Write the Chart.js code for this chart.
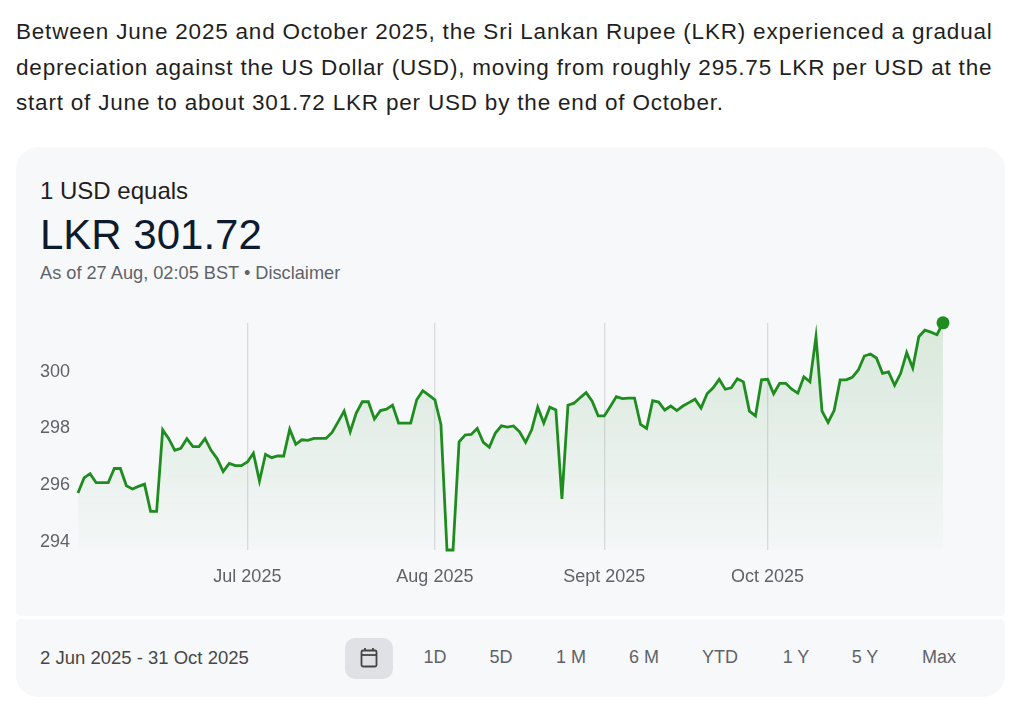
<!DOCTYPE html>
<html>
<head>
<meta charset="utf-8">
<script src="https://cdn.jsdelivr.net/npm/chart.js@4.4.1/dist/chart.umd.min.js"></script>
<style>
  body { margin: 0; background: #fff; font-family: "Liberation Sans", Arial, sans-serif; }
  .abs { position: absolute; white-space: nowrap; }
  #intro { left: 16px; top: 14px; font-size: 22.5px; letter-spacing: 0.8px; line-height: 35.5px; color: #1f1f1f; }
  #card { left: 16px; top: 147px; width: 989px; height: 469px; background: #f7f8fa;
          border-radius: 22px 22px 5px 5px; }
  #bar { left: 16px; top: 619px; width: 989px; height: 78px; background: #f7f8fa;
         border-radius: 5px 5px 22px 22px; }
  #equals { left: 40px; top: 177px; font-size: 24px; color: #1f1f1f; }
  #rate { left: 40px; top: 211px; font-size: 42px; color: #0d1b2e; }
  #asof { left: 40px; top: 263px; font-size: 18.2px; color: #5f6368; }
  #range { left: 40px; top: 647px; font-size: 18.5px; color: #474747; }
  .btn { top: 647px; font-size: 18px; color: #5f6368; transform: translateX(-50%); }
  #cal { left: 345px; top: 638px; width: 48px; height: 41px; background: #dfe1e5; border-radius: 10px; }
  #chartBox { left: 40px; top: 304px; }
  #chartBox canvas { display: block; }
</style>
</head>
<body>
<div class="abs" id="intro">Between June 2025 and October 2025, the Sri Lankan Rupee (LKR) experienced a gradual<br>depreciation against the US Dollar (USD), moving from roughly 295.75 LKR per USD at the<br>start of June to about 301.72 LKR per USD by the end of October.</div>

<div class="abs" id="card"></div>
<div class="abs" id="bar"></div>

<div class="abs" id="equals">1 USD equals</div>
<div class="abs" id="rate">LKR 301.72</div>
<div class="abs" id="asof">As of 27 Aug, 02:05 BST • Disclaimer</div>

<div class="abs" id="chartBox"><canvas id="fxChart" width="913" height="296"></canvas></div>

<div class="abs" id="range">2 Jun 2025 - 31 Oct 2025</div>
<div class="abs" id="cal">
  <svg width="48" height="41" viewBox="0 0 48 41">
    <rect x="16.5" y="12.5" width="15" height="16" rx="1.5" fill="none" stroke="#444" stroke-width="1.8"/>
    <line x1="16.5" y1="17" x2="31.5" y2="17" stroke="#444" stroke-width="1.8"/>
    <line x1="20" y1="10" x2="20" y2="13" stroke="#444" stroke-width="1.8"/>
    <line x1="28" y1="10" x2="28" y2="13" stroke="#444" stroke-width="1.8"/>
  </svg>
</div>
<div class="abs btn" style="left:435px">1D</div>
<div class="abs btn" style="left:501px">5D</div>
<div class="abs btn" style="left:571px">1 M</div>
<div class="abs btn" style="left:644px">6 M</div>
<div class="abs btn" style="left:720px">YTD</div>
<div class="abs btn" style="left:796px">1 Y</div>
<div class="abs btn" style="left:865px">5 Y</div>
<div class="abs btn" style="left:939px">Max</div>

<script>
// USD -> LKR rate, one value per data point (2 Jun 2025 - 31 Oct 2025)
const rates = [
  295.73, 296.26, 296.41, 296.09, 296.09, 296.09, 296.59, 296.59, 295.98, 295.87,
  295.96, 296.04, 295.08, 295.08, 297.95, 297.64, 297.23, 297.30, 297.64, 297.36,
  297.36, 297.64, 297.23, 296.94, 296.48, 296.77, 296.69, 296.69, 296.82, 297.13,
  296.15, 297.09, 296.97, 297.03, 297.03, 297.97, 297.44, 297.60, 297.58, 297.65,
  297.65, 297.65, 297.86, 298.23, 298.61, 297.88, 298.54, 298.94, 298.94, 298.33,
  298.63, 298.68, 298.82, 298.19, 298.19, 298.19, 299.01, 299.33, 299.17, 299.01,
  298.14, 293.72, 293.72, 297.53, 297.77, 297.79, 298.00, 297.51, 297.34, 297.84,
  298.09, 298.05, 298.09, 297.88, 297.51, 297.95, 298.75, 298.19, 298.75, 298.65,
  295.52, 298.82, 298.89, 299.08, 299.26, 298.96, 298.44, 298.44, 298.77, 299.12,
  299.05, 299.07, 299.07, 298.14, 298.00, 298.98, 298.93, 298.65, 298.79, 298.63,
  298.79, 298.91, 299.03, 298.72, 299.22, 299.43, 299.73, 299.38, 299.43, 299.75,
  299.64, 298.61, 298.44, 299.71, 299.73, 299.22, 299.59, 299.59, 299.38, 299.24,
  299.82, 299.64, 301.23, 298.61, 298.21, 298.63, 299.71, 299.71, 299.80, 300.06,
  300.55, 300.62, 300.48, 299.94, 299.99, 299.52, 299.94, 300.67, 300.13, 301.23,
  301.46, 301.39, 301.30, 301.72
];
// x position of each point (point number)
const pointIndex = rates.map((v, i) => i);

// month labels and the point they sit on
const monthTickIndex = [28, 59, 87, 114];
const monthTickLabels = ['Jul 2025', 'Aug 2025', 'Sept 2025', 'Oct 2025'];

// y axis
const yTicks = [294, 296, 298, 300];
const yMin = 293.72;
const yMax = 301.72;

const green = '#1e8c1e';

var ctx = document.getElementById('fxChart').getContext('2d');
var fxChart = new Chart(ctx, {
  type: 'line',
  data: {
    labels: pointIndex,
    datasets: [{
      data: rates,
      borderColor: green,
      borderWidth: 2.8,
      tension: 0,
      fill: 'start',
      clip: 10,
      backgroundColor: function(c) {
        const area = c.chart.chartArea;
        if (!area) return 'rgba(30,140,30,0.08)';
        const g = c.chart.ctx.createLinearGradient(0, area.top, 0, area.bottom);
        g.addColorStop(0, 'rgba(30,140,30,0.14)');
        g.addColorStop(1, 'rgba(30,140,30,0.01)');
        return g;
      },
      // only the latest point gets a dot
      pointRadius: c => c.dataIndex === rates.length - 1 ? 6.5 : 0,
      pointBackgroundColor: green,
      pointBorderWidth: 0,
      pointHoverRadius: 0
    }]
  },
  options: {
    responsive: false,
    animation: false,
    devicePixelRatio: 1,
    layout: { padding: { top: 12, right: 10, left: 0, bottom: 0 } },
    plugins: { legend: { display: false }, tooltip: { enabled: false } },
    scales: {
      x: {
        type: 'linear',
        min: 0,
        max: rates.length - 1,
        afterFit: s => { s.height = 50; },
        afterBuildTicks: s => { s.ticks = monthTickIndex.map(v => ({ value: v })); },
        grid: { color: '#d9dbdf', lineWidth: 1.3, drawTicks: false },
        border: { display: false },
        ticks: {
          padding: 16,
          maxRotation: 0,
          autoSkip: false,
          color: '#5f6368',
          font: { family: '"Liberation Sans", Arial, sans-serif', size: 18 },
          callback: (v, i) => monthTickLabels[i]
        }
      },
      y: {
        min: yMin,
        max: yMax,
        afterFit: s => { s.width = 38; },
        afterBuildTicks: s => { s.ticks = yTicks.map(v => ({ value: v })); },
        grid: { display: false, drawTicks: false },
        border: { display: false },
        ticks: {
          padding: 8,
          color: '#5f6368',
          font: { family: '"Liberation Sans", Arial, sans-serif', size: 18 }
        }
      }
    }
  }
});
</script>
</body>
</html>
